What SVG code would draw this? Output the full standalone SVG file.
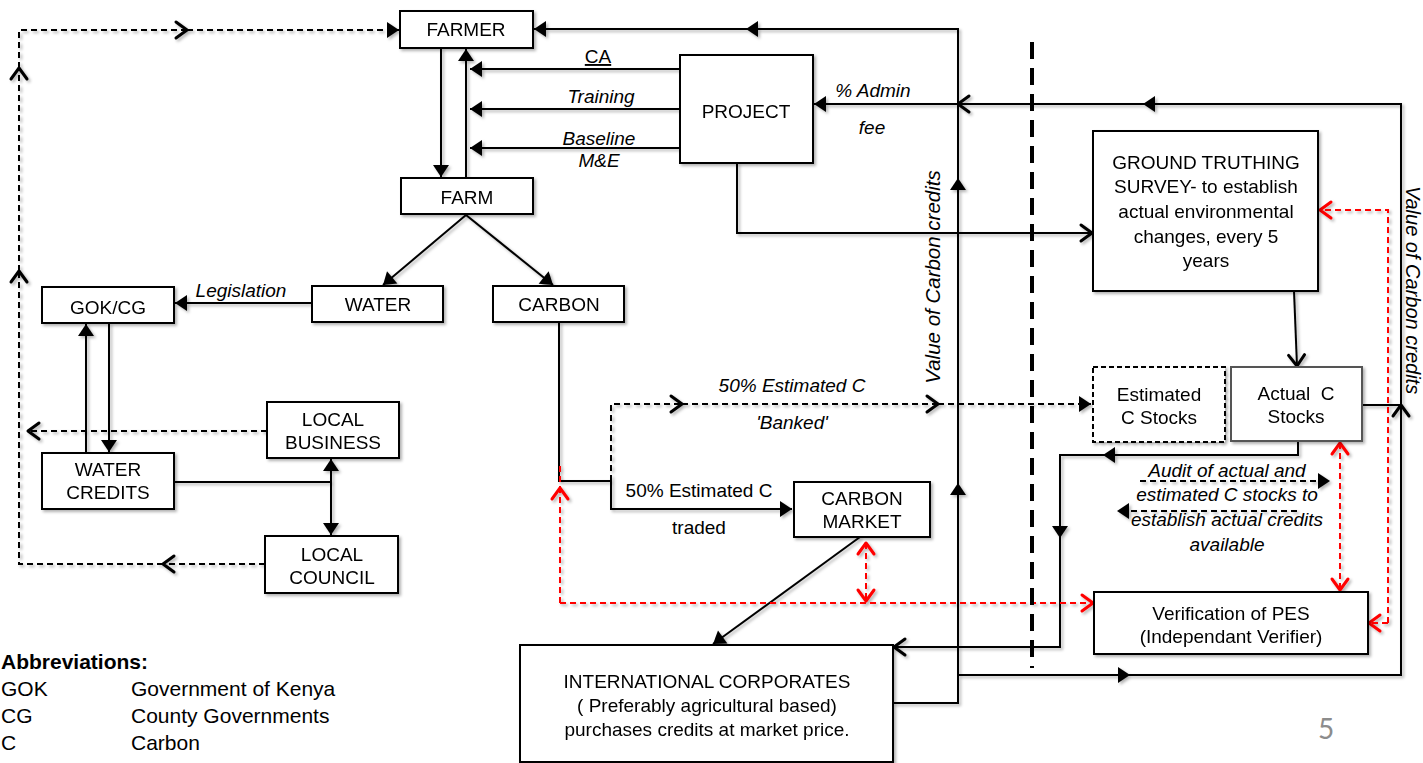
<svg xmlns="http://www.w3.org/2000/svg" width="1423" height="763" viewBox="0 0 1423 763">
<style>
text{font-family:"Liberation Sans",Arial,Helvetica,sans-serif;font-size:19px;fill:#000}
.c{text-anchor:middle}
.i{font-style:italic}
.box{fill:#fff;stroke:#000;stroke-width:2}
.ln{fill:none;stroke:#000;stroke-width:2}
.dl{fill:none;stroke:#000;stroke-width:2;stroke-dasharray:6 4}
.rl{fill:none;stroke:#f00;stroke-width:2;stroke-dasharray:6 4}
.ab{font-size:21px}
</style>
<defs>
<filter id="sh" x="-5%" y="-5%" width="110%" height="110%">
<feDropShadow dx="2" dy="2" stdDeviation="1.5" flood-color="#000" flood-opacity="0.3"/>
</filter>
<marker id="fa" markerUnits="userSpaceOnUse" markerWidth="14" markerHeight="18" refX="12" refY="8" orient="auto" overflow="visible"><path d="M0,0 L12,8 L0,16 z" fill="#000"/></marker>
<marker id="oa" markerUnits="userSpaceOnUse" markerWidth="14" markerHeight="18" refX="12" refY="8" orient="auto" overflow="visible"><path d="M1,0 L12,8 L1,16" fill="none" stroke="#000" stroke-width="3" stroke-linecap="round" stroke-linejoin="round"/></marker>
<marker id="ra" markerUnits="userSpaceOnUse" markerWidth="14" markerHeight="18" refX="12" refY="8" orient="auto-start-reverse" overflow="visible"><path d="M1,0 L12,8 L1,16" fill="none" stroke="#f00" stroke-width="3" stroke-linecap="round" stroke-linejoin="round"/></marker>
</defs>
<rect width="1423" height="763" fill="#fff"/>

<g id="connectors" filter="url(#sh)">
<path class="dl" d="M265,564 L163,564" marker-end="url(#oa)"/>
<path class="dl" d="M163,564 L19,564 L19,271" marker-end="url(#oa)"/>
<path class="dl" d="M19,271 L19,68" marker-end="url(#oa)"/>
<path class="dl" d="M19,68 L19,30 L187,30" marker-end="url(#oa)"/>
<path class="dl" d="M187,30 L399,30" marker-end="url(#fa)"/>
<path class="dl" d="M267,431 L28,431" marker-end="url(#oa)"/>
<path class="ln" d="M441,48 L441,177" marker-end="url(#fa)"/>
<path class="ln" d="M466,178 L466,49" marker-end="url(#fa)"/>
<path class="ln" d="M680,69 L470,69" marker-end="url(#fa)"/>
<path class="ln" d="M680,109 L470,109" marker-end="url(#fa)"/>
<path class="ln" d="M680,148 L470,148" marker-end="url(#fa)"/>
<path class="ln" d="M466,215 L383,285" marker-end="url(#fa)"/>
<path class="ln" d="M466,215 L553,285" marker-end="url(#fa)"/>
<path class="ln" d="M312,303 L175,303" marker-end="url(#fa)"/>
<path class="ln" d="M109,323 L109,452" marker-end="url(#fa)"/>
<path class="ln" d="M86,453 L86,324" marker-end="url(#fa)"/>
<path class="ln" d="M174,482 L331,482"/>
<path class="ln" d="M331,482 L331,459" marker-end="url(#fa)"/>
<path class="ln" d="M331,482 L331,535" marker-end="url(#fa)"/>
<path class="ln" d="M559,322 L559,481 L611,481 L611,509 L792,509" marker-end="url(#fa)"/>
<path class="dl" d="M611,481 L611,404 L682,404" marker-end="url(#oa)"/>
<path class="dl" d="M682,404 L938,404" marker-end="url(#oa)"/>
<path class="dl" d="M938,404 L1091,404" marker-end="url(#fa)"/>
<path class="ln" d="M860,537 L713,644" marker-end="url(#fa)"/>
<path class="ln" d="M893,703 L958,703 L958,483" marker-end="url(#fa)"/>
<path class="ln" d="M958,483 L958,178" marker-end="url(#fa)"/>
<path class="ln" d="M958,178 L958,29 L746,29" marker-end="url(#fa)"/>
<path class="ln" d="M746,29 L534,29" marker-end="url(#fa)"/>
<path class="ln" d="M958,675 L1130,675" marker-end="url(#fa)"/>
<path class="ln" d="M1130,675 L1401,675 L1401,405" marker-end="url(#oa)"/>
<path class="ln" d="M1401,405 L1401,104 L1143,104" marker-end="url(#fa)"/>
<path class="ln" d="M1143,104 L958,104" marker-end="url(#oa)"/>
<path class="ln" d="M958,104 L814,104" marker-end="url(#fa)"/>
<path class="ln" d="M1362,405 L1401,405"/>
<path class="ln" d="M737,163 L737,233 L1092,233" marker-end="url(#oa)"/>
<path class="ln" d="M1294,291 L1297,366" marker-end="url(#oa)"/>
<path class="ln" d="M1298,441 L1298,455 L1103,455" marker-end="url(#fa)"/>
<path class="ln" d="M1103,455 L1060,455 L1060,538" marker-end="url(#fa)"/>
<path class="ln" d="M1060,538 L1060,647 L894,647" marker-end="url(#oa)"/>
<path class="dl" d="M1140,481 L1330,481" marker-end="url(#fa)"/>
<path class="dl" d="M1297,511 L1117,511" marker-end="url(#fa)"/>
<path class="rl" d="M560,466 L560,488"/>
<path class="rl" d="M560,603 L560,488" marker-end="url(#ra)"/>
<path class="rl" d="M560,603 L1093,603" marker-end="url(#ra)"/>
<path class="rl" d="M866,543 L866,601" marker-start="url(#ra)" marker-end="url(#ra)"/>
<path class="rl" d="M1340,443 L1340,590" marker-start="url(#ra)" marker-end="url(#ra)"/>
<path class="rl" d="M1388,623 L1369,623" marker-end="url(#ra)"/>
<path class="rl" d="M1388,623 L1388,210 L1320,210" marker-end="url(#ra)"/>
</g>

<path d="M1032,42 L1032,668" fill="none" stroke="#000" stroke-width="4" stroke-dasharray="17 9"/>

<g filter="url(#sh)">
<g id="farmer"><rect class="box" x="400" y="11" width="133" height="37"/><text class="c" x="466" y="36">FARMER</text></g>
<g id="project"><rect class="box" x="680" y="55" width="133" height="108"/><text class="c" x="746" y="118">PROJECT</text></g>
<g id="farm"><rect class="box" x="401" y="178" width="132" height="36"/><text class="c" x="467" y="204">FARM</text></g>
<g id="water"><rect class="box" x="312" y="286" width="131" height="36"/><text class="c" x="378" y="311">WATER</text></g>
<g id="carbon"><rect class="box" x="493" y="286" width="131" height="36"/><text class="c" x="559" y="311">CARBON</text></g>
<g id="gokcg"><rect class="box" x="42" y="287" width="132" height="36"/><text class="c" x="108" y="314">GOK/CG</text></g>
<g id="local-business"><rect class="box" x="267" y="402" width="132" height="56"/><text class="c" x="333" y="426">LOCAL</text><text class="c" x="333" y="449">BUSINESS</text></g>
<g id="water-credits"><rect class="box" x="42" y="453" width="132" height="56"/><text class="c" x="108" y="476">WATER</text><text class="c" x="108" y="499">CREDITS</text></g>
<g id="local-council"><rect class="box" x="265" y="536" width="133" height="57"/><text class="c" x="332" y="561">LOCAL</text><text class="c" x="332" y="584">COUNCIL</text></g>
<g id="carbon-market"><rect class="box" x="794" y="482" width="136" height="55"/><text class="c" x="862" y="505">CARBON</text><text class="c" x="862" y="528">MARKET</text></g>
<g id="ground-truthing"><rect class="box" x="1093" y="131" width="225" height="160"/>
<text class="c" x="1206" y="169">GROUND TRUTHING</text>
<text class="c" x="1206" y="193">SURVEY- to establish</text>
<text class="c" x="1206" y="218">actual environmental</text>
<text class="c" x="1206" y="243">changes, every 5</text>
<text class="c" x="1206" y="267">years</text></g>
<g id="estimated-c-stocks"><rect x="1093" y="367" width="132" height="75" fill="#fff" stroke="#000" stroke-width="2" stroke-dasharray="5 3"/><text class="c" x="1159" y="401">Estimated</text><text class="c" x="1159" y="424">C Stocks</text></g>
<g id="actual-c-stocks"><rect x="1231" y="367" width="131" height="74" fill="#fff" stroke="#555" stroke-width="2"/><text class="c" x="1296" y="400" xml:space="preserve">Actual  C</text><text class="c" x="1296" y="423">Stocks</text></g>
<g id="verification"><rect class="box" x="1094" y="592" width="274" height="62"/><text class="c" x="1231" y="620">Verification of PES</text><text class="c" x="1231" y="643">(Independant Verifier)</text></g>
<g id="international-corporates"><rect class="box" x="520" y="645" width="373" height="117"/>
<text class="c" x="707" y="688">INTERNATIONAL CORPORATES</text>
<text class="c" x="707" y="712">( Preferably agricultural based)</text>
<text class="c" x="707" y="736">purchases credits at market price.</text></g>
</g>

<g id="labels">
<text class="c" x="598" y="63" text-decoration="underline">CA</text>
<text class="c i" x="601" y="103">Training</text>
<text class="c i" x="599" y="145">Baseline</text>
<text class="c i" x="599" y="167">M&amp;E</text>
<text class="c i" x="873" y="97">% Admin</text>
<text class="c i" x="872" y="134">fee</text>
<text class="c i" x="241" y="297">Legislation</text>
<text class="c i" x="792" y="392">50% Estimated C</text>
<text class="c i" x="792" y="429">'Banked'</text>
<text class="c" x="699" y="497">50% Estimated C</text>
<text class="c" x="699" y="534">traded</text>
<text class="c i" x="1227" y="477">Audit of actual and</text>
<text class="c i" x="1227" y="501">estimated C stocks to</text>
<text class="c i" x="1227" y="526">establish actual credits</text>
<text class="c i" x="1227" y="551">available</text>
<text class="c i" style="font-size:20.5px" transform="translate(940,277) rotate(-90)">Value of Carbon credits</text>
<text class="c i" style="font-size:20px" transform="translate(1406,290) rotate(90)">Value of Carbon credits</text>
</g>

<g id="abbreviations">
<text class="ab" x="1" y="669" font-weight="bold">Abbreviations:</text>
<text class="ab" x="1" y="696">GOK</text><text class="ab" x="131" y="696">Government of Kenya</text>
<text class="ab" x="1" y="723">CG</text><text class="ab" x="131" y="723">County Governments</text>
<text class="ab" x="1" y="750">C</text><text class="ab" x="131" y="750">Carbon</text>
</g>
<text x="1326" y="739" text-anchor="middle" style="font-family:Lato,'Open Sans',sans-serif;font-size:28px;fill:#8c8c8c">5</text>
</svg>
